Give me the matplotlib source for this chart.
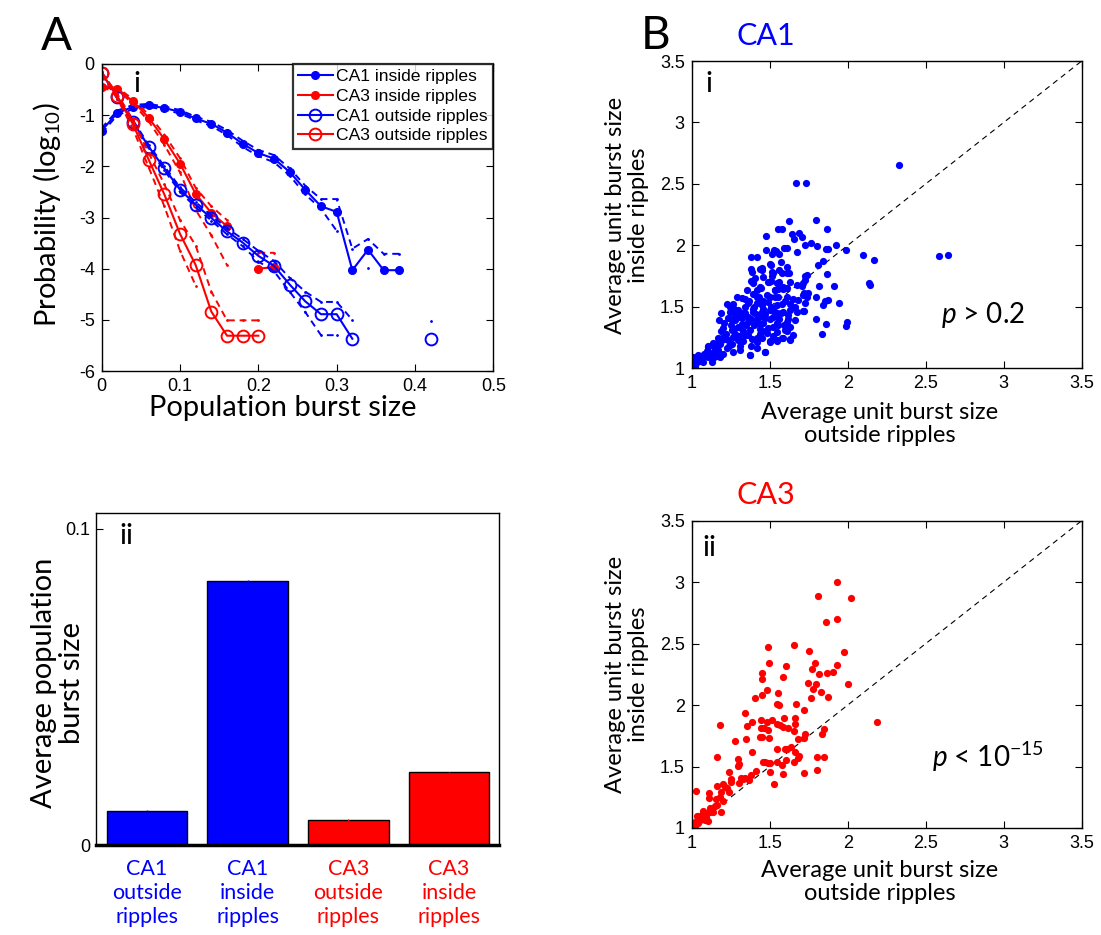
import numpy as np
import matplotlib
matplotlib.use('Agg')
import matplotlib.pyplot as plt

plt.rcParams['font.family'] = ['Liberation Sans', 'DejaVu Sans']
plt.rcParams['mathtext.fontset'] = 'custom'
plt.rcParams['mathtext.rm'] = 'Lato'
plt.rcParams['mathtext.it'] = 'Lato:italic'
plt.rcParams['axes.unicode_minus'] = False

LBL = ['Lato', 'DejaVu Sans']
BLUE = '#0000ff'
RED = '#ff0000'
nan = np.nan

# ---------------- Panel A(i): burst size distributions ----------------
ca1_in_x = [0, .02, .04, .06, .08, .10, .12, .14, .16, .18, .20, .22, .24, .26, .28, .30, .32, .34, .36, .38]
ca1_in_y = [-1.30, -0.955, -0.84, -0.81, -0.86, -0.935, -1.065, -1.17, -1.34, -1.56, -1.74, -1.85,
            -2.11, -2.46, -2.78, -2.89, -4.03, -3.63, -4.03, -4.03]
ca1_in_hi = [-1.25, -0.91, -0.80, -0.78, -0.83, -0.90, -1.03, -1.13, -1.29, -1.50, -1.68, -1.78,
             -2.04, -2.38, -2.64, -2.64, -3.61, -3.42, -3.71, -3.71]
ca1_in_lo = [-1.35, -1.00, -0.88, -0.84, -0.89, -0.97, -1.10, -1.21, -1.39, -1.62, -1.80, -1.92,
             -2.18, -2.55, -2.83, -3.26, nan, -3.99, nan, nan]

ca3_in_x = [0, .02, .04, .06, .08, .10, .12, .14, .16, .18, .20, .22]
ca3_in_y = [-0.456, -0.49, -0.73, -1.05, -1.47, -1.945, -2.54, -2.91, -3.17, nan, -4.0, -3.97]
ca3_in_hi = [-0.43, -0.46, -0.69, -0.99, -1.38, -1.84, -2.42, -2.78, -3.05, nan, -3.69, -3.69]
ca3_in_lo = [-0.48, -0.52, -0.77, -1.12, -1.58, -2.12, -2.85, -3.35, -3.93, nan, nan, nan]

ca1_out_x = [0, .02, .04, .06, .08, .10, .12, .14, .16, .18, .20, .22, .24, .26, .28, .30, .32,
             .34, .36, .38, .40, .42]
ca1_out_y = [-0.18, -0.645, -1.135, -1.615, -2.04, -2.455, -2.75, -3.01, -3.27, -3.49, -3.75, -3.945,
             -4.31, -4.64, -4.89, -4.89, -5.37, nan, nan, nan, nan, -5.37]
ca1_out_hi = [-0.16, -0.61, -1.10, -1.58, -2.00, -2.41, -2.70, -2.96, -3.21, -3.42, -3.65, -3.85,
              -4.18, -4.45, -4.65, -4.65, -5.00, nan, nan, nan, nan, -5.03]
ca1_out_lo = [-0.20, -0.68, -1.17, -1.65, -2.08, -2.50, -2.80, -3.06, -3.33, -3.56, -3.86, -4.05,
              -4.45, -4.85, -5.30, -5.30, nan, nan, nan, nan, nan, nan]

ca3_out_x = [0, .02, .04, .06, .08, .10, .12, .14, .16, .18, .20]
ca3_out_y = [-0.18, -0.63, -1.18, -1.87, -2.55, -3.32, -3.93, -4.84, -5.31, -5.31, -5.31]
ca3_out_hi = [-0.16, -0.59, -1.10, -1.74, -2.35, -3.05, -3.55, -4.45, -5.01, -5.01, -5.01]
ca3_out_lo = [-0.20, -0.68, -1.27, -2.02, -2.78, -3.65, -4.33, nan, nan, nan, nan]

legend_labels = ['CA1 inside ripples', 'CA3 inside ripples', 'CA1 outside ripples', 'CA3 outside ripples']

# ---------------- Panel A(ii): bar chart ----------------
bar_labels = ['CA1\noutside\nripples', 'CA1\ninside\nripples', 'CA3\noutside\nripples', 'CA3\ninside\nripples']
bar_values = [0.0108, 0.0836, 0.0079, 0.0230]
bar_errors = [0.0002, 0.0003, 0.0002, 0.0002]
bar_colors = [BLUE, BLUE, RED, RED]

# ---------------- Panel B(i): CA1 scatter ----------------
ca1_pts = [
    (2.329, 2.654), (1.671, 2.505), (1.735, 2.505), (1.626, 2.198), (1.795, 2.207), (1.553, 2.131),
    (1.579, 2.131), (1.865, 2.131), (1.643, 2.09), (1.479, 2.074), (1.686, 2.10), (1.709, 2.071),
    (1.658, 2.052), (1.765, 2.022), (1.724, 2.003), (1.803, 1.998), (1.927, 2.006), (1.476, 1.965),
    (1.530, 1.96), (1.542, 1.952), (1.590, 1.979), (1.609, 1.982), (1.673, 1.949), (1.861, 1.968),
    (1.876, 1.968), (1.987, 1.963), (2.096, 1.922), (2.171, 1.879), (2.588, 1.916), (2.645, 1.922),
    (1.840, 1.876), (1.502, 1.846), (1.812, 1.841), (1.382, 1.808), (1.44, 1.81), (1.45, 1.80),
    (1.517, 1.786), (1.562, 1.80), (1.613, 1.773), (1.626, 1.773), (1.737, 1.759), (1.865, 1.767),
    (1.729, 1.719), (1.408, 1.737), (1.380, 1.71), (1.391, 1.70), (1.489, 1.70), (1.506, 1.71),
    (1.562, 1.705), (1.583, 1.659), (1.532, 1.637), (1.553, 1.643), (1.611, 1.651), (1.709, 1.67),
    (1.816, 1.67), (1.915, 1.67), (1.419, 1.637), (1.444, 1.651), (1.353, 1.637), (1.288, 1.583),
    (1.323, 1.569), (1.72, 1.61), (1.739, 1.578), (1.799, 1.583), (1.853, 1.55), (1.872, 1.556),
    (1.947, 1.529), (1.844, 1.515), (1.224, 1.523), (1.246, 1.502), (1.274, 1.48), (1.188, 1.447),
    (1.72, 1.466), (1.797, 1.399), (1.859, 1.358), (1.835, 1.277), (1.998, 1.38), (1.989, 1.344),
    (2.135, 1.69), (2.141, 1.678), (1.491, 1.325), (1.547, 1.225), (1.502, 1.225), (1.632, 1.23),
    (1.47, 1.136), (1.372, 1.108), (1.107, 1.184), (1.139, 1.209), (1.0, 1.014), (1.380, 1.908),
    (1.419, 1.903), (1.515, 1.93), (1.562, 1.93), (1.572, 1.867), (1.449, 1.819), (1.508, 1.840),
    (1.609, 1.827), (1.385, 1.786), (1.523, 1.778), (1.577, 1.773), (1.459, 1.745), (1.513, 1.751),
    (1.395, 1.692), (1.495, 1.705), (1.549, 1.692), (1.630, 1.705), (1.726, 1.751), (1.715, 1.692),
    (1.438, 1.664), (1.534, 1.637), (1.587, 1.643), (1.673, 1.678), (1.391, 1.602), (1.417, 1.583),
    (1.481, 1.596), (1.534, 1.583), (1.609, 1.583), (1.651, 1.561), (1.683, 1.556), (1.267, 1.523),
    (1.363, 1.529), (1.417, 1.529), (1.449, 1.515), (1.491, 1.542), (1.545, 1.515), (1.630, 1.523),
    (1.715, 1.596), (1.246, 1.461), (1.299, 1.474), (1.342, 1.448), (1.395, 1.480), (1.449, 1.461),
    (1.502, 1.474), (1.549, 1.452), (1.587, 1.461), (1.630, 1.474), (1.619, 1.434), (1.177, 1.393),
    (1.235, 1.407), (1.278, 1.393), (1.321, 1.407), (1.363, 1.379), (1.417, 1.393), (1.470, 1.407),
    (1.523, 1.420), (1.545, 1.366), (1.609, 1.379), (1.662, 1.393), (1.203, 1.325), (1.256, 1.312),
    (1.299, 1.339), (1.331, 1.298), (1.374, 1.312), (1.438, 1.317), (1.545, 1.298), (1.598, 1.312),
    (1.630, 1.339), (1.106, 1.176), (1.160, 1.203), (1.192, 1.244), (1.235, 1.230), (1.267, 1.257),
    (1.299, 1.230), (1.342, 1.271), (1.385, 1.236), (1.417, 1.216), (1.449, 1.244), (1.545, 1.230),
    (1.587, 1.244), (1.630, 1.236), (1.651, 1.271), (1.128, 1.122), (1.171, 1.149), (1.224, 1.163),
    (1.267, 1.135), (1.310, 1.149), (1.374, 1.108), (1.417, 1.163), (1.470, 1.135), (1.502, 1.216),
    (1.010, 1.094), (1.042, 1.108), (1.074, 1.094), (1.106, 1.094), (1.138, 1.081), (1.181, 1.094),
    (1.0, 1.041), (1.032, 1.054), (1.064, 1.068), (1.747, 1.61), (1.726, 1.53), (1.715, 1.47),
    (1.673, 1.461), (1.609, 1.30), (1.577, 1.244), (1.25, 1.35), (1.28, 1.28), (1.32, 1.36),
    (1.36, 1.42), (1.40, 1.35), (1.43, 1.42), (1.46, 1.37), (1.48, 1.29), (1.52, 1.34), (1.56, 1.40),
    (1.58, 1.52), (1.60, 1.55), (1.50, 1.58), (1.46, 1.55), (1.40, 1.50), (1.34, 1.50), (1.30, 1.42),
    (1.22, 1.28), (1.18, 1.20), (1.15, 1.15), (1.20, 1.12), (1.26, 1.20), (1.33, 1.22), (1.38, 1.18),
    (1.44, 1.28), (1.05, 1.06), (1.08, 1.12), (1.12, 1.10), (1.02, 1.02), (1.04, 1.08),
    (1.14, 1.18), (1.17, 1.25), (1.21, 1.24), (1.24, 1.18), (1.27, 1.32), (1.30, 1.26), (1.33, 1.30),
    (1.36, 1.27), (1.35, 1.35), (1.38, 1.40), (1.41, 1.44), (1.44, 1.35), (1.47, 1.44), (1.50, 1.40),
    (1.53, 1.47), (1.55, 1.35), (1.57, 1.45), (1.52, 1.26), (1.47, 1.30), (1.42, 1.25), (1.39, 1.46),
    (1.32, 1.45), (1.28, 1.44), (1.25, 1.40), (1.21, 1.37), (1.19, 1.30), (1.16, 1.10), (1.10, 1.14),
    (1.07, 1.05), (1.13, 1.05), (1.31, 1.18), (1.46, 1.48), (1.51, 1.50), (1.55, 1.58), (1.62, 1.40),
    (1.66, 1.50), (1.59, 1.35), (1.34, 1.56), (1.37, 1.55), (1.43, 1.58),
]
ca1_x = [p[0] for p in ca1_pts]
ca1_y = [p[1] for p in ca1_pts]

# ---------------- Panel B(ii): CA3 scatter ----------------
ca3_pts = [
    (1.932, 3.004), (1.812, 2.888), (2.021, 2.872), (1.859, 2.674), (1.932, 2.702), (1.487, 2.475),
    (1.656, 2.491), (1.750, 2.442), (1.979, 2.429), (1.498, 2.339), (1.605, 2.32), (1.788, 2.342),
    (1.929, 2.323), (1.908, 2.272), (1.774, 2.293), (1.816, 2.25), (1.865, 2.261), (1.451, 2.258),
    (1.451, 2.215), (1.583, 2.226), (1.746, 2.179), (1.797, 2.171), (2.004, 2.169), (1.485, 2.125),
    (1.553, 2.10), (1.776, 2.131), (1.831, 2.11), (1.404, 2.06), (1.451, 2.082), (1.765, 2.057),
    (1.872, 2.068), (1.545, 2.01), (1.560, 2.00), (1.671, 2.011), (1.722, 1.962), (1.340, 1.932),
    (1.184, 1.841), (1.442, 1.88), (1.481, 1.862), (1.385, 1.862), (1.517, 1.88), (1.545, 1.846),
    (1.566, 1.84), (1.590, 1.892), (1.588, 1.822), (1.615, 1.813), (1.662, 1.894), (1.660, 1.849),
    (1.444, 1.813), (1.464, 1.813), (1.491, 1.795), (1.496, 1.731), (1.440, 1.737), (1.451, 1.737),
    (1.353, 1.826), (1.658, 1.786), (1.724, 1.767), (1.720, 1.731), (1.850, 1.807), (1.838, 1.767),
    (1.679, 1.723), (1.276, 1.710), (1.348, 1.723), (2.190, 1.864), (1.549, 1.642), (1.598, 1.642),
    (1.613, 1.642), (1.635, 1.658), (1.387, 1.615), (1.662, 1.615), (1.690, 1.583), (1.684, 1.569),
    (1.605, 1.555), (1.162, 1.577), (1.299, 1.561), (1.801, 1.577), (1.848, 1.577), (1.457, 1.539),
    (1.470, 1.539), (1.502, 1.528), (1.487, 1.528), (1.545, 1.536), (1.581, 1.512), (1.654, 1.536),
    (1.295, 1.507), (1.303, 1.523), (1.410, 1.466), (1.500, 1.452), (1.588, 1.439), (1.718, 1.444),
    (1.801, 1.474), (1.237, 1.452), (1.378, 1.428), (1.318, 1.41), (1.342, 1.41), (1.330, 1.40),
    (1.365, 1.388), (1.306, 1.37), (1.530, 1.355), (1.250, 1.371), (1.199, 1.355), (1.214, 1.333),
    (1.237, 1.29), (1.229, 1.325), (1.160, 1.339), (1.188, 1.29), (1.111, 1.287), (1.111, 1.241),
    (1.028, 1.304), (1.154, 1.236), (1.179, 1.252), (1.160, 1.19), (1.150, 1.176), (1.118, 1.127),
    (1.139, 1.127), (1.186, 1.127), (1.096, 1.122), (1.075, 1.135), (1.064, 1.108), (1.043, 1.10),
    (1.032, 1.095), (1.011, 1.014), (1.024, 1.0), (1.0, 1.008), (1.043, 1.041), (1.053, 1.068),
    (1.085, 1.062), (1.107, 1.054), (1.064, 1.081), (1.021, 1.046), (1.09, 1.09), (1.12, 1.16),
    (1.20, 1.22), (1.25, 1.40),
]
ca3_x = [p[0] for p in ca3_pts]
ca3_y = [p[1] for p in ca3_pts]

W, H = 1101, 935
fig = plt.figure(figsize=(W / 100, H / 100), dpi=100)


def fx(px):
    return px / W


def fy(py):
    return 1 - py / H


def box(l, t, r, b):
    return [fx(l), fy(b), fx(r) - fx(l), fy(t) - fy(b)]


def style_axes(ax, lw=1.0):
    for s in ax.spines.values():
        s.set_linewidth(lw)
    ax.tick_params(direction='in', top=True, right=True, length=5, width=0.8,
                   labelsize=13, pad=5)


# ---------- A(i) ----------
axA = fig.add_axes(box(101.7, 64, 493.3, 371))
style_axes(axA)
dash = (0, (3.5, 2.5))
series = [
    (ca1_in_x, ca1_in_y, ca1_in_hi, ca1_in_lo, BLUE, True),
    (ca3_in_x, ca3_in_y, ca3_in_hi, ca3_in_lo, RED, True),
    (ca1_out_x, ca1_out_y, ca1_out_hi, ca1_out_lo, BLUE, False),
    (ca3_out_x, ca3_out_y, ca3_out_hi, ca3_out_lo, RED, False),
]
handles = []
for (xs, ys, hi, lo, c, filled), lab in zip(series, legend_labels):
    axA.plot(xs, hi, color=c, lw=1.4, linestyle=dash, marker='.', ms=2)
    axA.plot(xs, lo, color=c, lw=1.4, linestyle=dash, marker='.', ms=2)
    if filled:
        h, = axA.plot(xs, ys, color=c, lw=1.5, marker='o', ms=5.5, mfc=c, mec=c, label=lab)
    else:
        h, = axA.plot(xs, ys, color=c, lw=1.5, marker='o', ms=8.5, mfc='none', mec=c, mew=1.4, label=lab)
    handles.append(h)
axA.set_xlim(0, 0.5)
axA.set_ylim(-6, 0)
axA.set_xticks([0, 0.1, 0.2, 0.3, 0.4, 0.5])
axA.set_xticklabels(['0', '0.1', '0.2', '0.3', '0.4', '0.5'])
axA.set_yticks([-6, -5, -4, -3, -2, -1, 0])
axA.set_yticklabels(['-6', '-5', '-4', '-3', '-2', '-1', '0'])
leg = axA.legend(handles=handles, loc='upper right', fontsize=12.6, frameon=True, fancybox=False,
                 borderaxespad=0.0, handlelength=2.0, handletextpad=0.2, borderpad=0.3,
                 labelspacing=0.25)
leg.get_frame().set_edgecolor('black')
leg.get_frame().set_linewidth(1.6)
axA.text(0.09, 0.935, 'i', transform=axA.transAxes, fontsize=21, family=LBL, va='center', ha='center')

# ---------- A(ii) ----------
axB = fig.add_axes(box(95.7, 513, 499.3, 845))
for s in axB.spines.values():
    s.set_linewidth(1.0)
axB.spines['bottom'].set_linewidth(2.5)
pos = [1, 2, 3, 4]
axB.bar(pos, bar_values, width=0.8, color=bar_colors, edgecolor='black', linewidth=1.0, zorder=2)
for p, v, e, c in zip(pos, bar_values, bar_errors, bar_colors):
    axB.errorbar([p], [v], yerr=[e], color=c, lw=1, capsize=0, zorder=3)
axB.set_xlim(0.49, 4.5)
axB.set_ylim(0, 0.105)
axB.set_yticks([0, 0.1])
axB.set_yticklabels(['0', '0.1'])
axB.set_xticks([])
axB.tick_params(axis='y', direction='in', length=5, labelsize=13, pad=4)
for p, lab, c in zip(pos, bar_labels, bar_colors):
    axB.text(p, -0.0045, lab, color=c, family=LBL, fontsize=15.5, ha='center', va='top',
             linespacing=1.25, transform=axB.transData)
axB.text(0.075, 0.93, 'ii', transform=axB.transAxes, fontsize=21, family=LBL, va='center', ha='center')

# ---------- B(i) ----------
axC = fig.add_axes(box(691.7, 61, 1081.7, 368.3))
style_axes(axC)
axC.plot([1, 3.5], [1, 3.5], color='black', lw=0.8, linestyle=(0, (5, 4)))
axC.plot(ca1_x, ca1_y, 'o', color=BLUE, ms=5.2, mec='none')
axC.set_xlim(1, 3.5)
axC.set_ylim(1, 3.5)
ticks = [1, 1.5, 2, 2.5, 3, 3.5]
tlabs = ['1', '1.5', '2', '2.5', '3', '3.5']
axC.set_xticks(ticks); axC.set_xticklabels(tlabs)
axC.set_yticks(ticks); axC.set_yticklabels(tlabs)
axC.text(0.045, 0.925, 'i', transform=axC.transAxes, fontsize=21, family=LBL, va='center', ha='center')
axC.text(2.6, 1.43, r'$p$ > 0.2', fontsize=20, family=LBL, va='center', ha='left')

# ---------- B(ii) ----------
axD = fig.add_axes(box(691.7, 520.7, 1081.7, 828))
style_axes(axD)
axD.plot([1, 3.5], [1, 3.5], color='black', lw=0.8, linestyle=(0, (5, 4)))
axD.plot(ca3_x, ca3_y, 'o', color=RED, ms=5.2, mec='none')
axD.set_xlim(1, 3.5)
axD.set_ylim(1, 3.5)
axD.set_xticks(ticks); axD.set_xticklabels(tlabs)
axD.set_yticks(ticks); axD.set_yticklabels(tlabs)
axD.text(0.045, 0.91, 'ii', transform=axD.transAxes, fontsize=21, family=LBL, va='center', ha='center')
axD.text(2.54, 1.58, r'$p$ < 10$^{-15}$', fontsize=20, family=LBL, va='center', ha='left')

# ---------- figure texts ----------
fig.text(fx(56), fy(37), 'A', fontsize=33, family=LBL, ha='center', va='center')
fig.text(fx(656), fy(36), 'B', fontsize=33, family=LBL, ha='center', va='center')
fig.text(fx(47), fy(215), 'Probability (log$_{10}$)', fontsize=21, family=LBL, rotation=90,
         ha='center', va='center')
fig.text(fx(283), fy(408), 'Population burst size', fontsize=21, family=LBL, ha='center', va='center')
fig.text(fx(58), fy(683), 'Average population\nburst size', fontsize=21, family=LBL, rotation=90,
         ha='center', va='center', linespacing=1.1)
fig.text(fx(766), fy(36), 'CA1', fontsize=22, family=LBL, color=BLUE, ha='center', va='center')
fig.text(fx(766), fy(495), 'CA3', fontsize=22, family=LBL, color=RED, ha='center', va='center')
fig.text(fx(627), fy(215), 'Average unit burst size\ninside ripples', fontsize=17, family=LBL,
         rotation=90, ha='center', va='center', linespacing=1.15)
fig.text(fx(627), fy(674), 'Average unit burst size\ninside ripples', fontsize=17, family=LBL,
         rotation=90, ha='center', va='center', linespacing=1.15)
fig.text(fx(880), fy(424), 'Average unit burst size\noutside ripples', fontsize=17, family=LBL,
         ha='center', va='center', linespacing=1.15)
fig.text(fx(880), fy(882), 'Average unit burst size\noutside ripples', fontsize=17, family=LBL,
         ha='center', va='center', linespacing=1.15)

fig.savefig('out.png', dpi=100)
